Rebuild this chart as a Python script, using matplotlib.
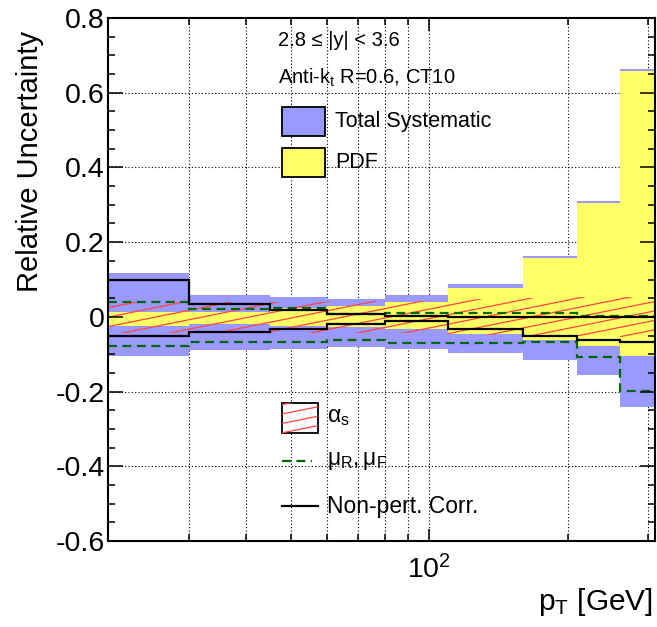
import numpy as np
import matplotlib
matplotlib.use("Agg")
import matplotlib.pyplot as plt
from matplotlib.patches import Rectangle
from matplotlib.lines import Line2D
from matplotlib.ticker import FixedLocator, FixedFormatter, FuncFormatter, MultipleLocator

plt.rcParams['font.family'] = ['Liberation Sans', 'DejaVu Sans']
plt.rcParams['mathtext.fontset'] = 'custom'
plt.rcParams['mathtext.rm'] = 'Liberation Sans'
plt.rcParams['mathtext.it'] = 'Liberation Sans:italic'
plt.rcParams['mathtext.default'] = 'regular'
plt.rcParams['axes.unicode_minus'] = False

# pT bin edges [GeV]
pt_edges = [20, 30, 45, 60, 80, 110, 160, 210, 260, 310]

# relative uncertainties per bin
total_up = [0.117, 0.059, 0.052, 0.047, 0.059, 0.088, 0.163, 0.310, 0.663]
total_dn = [-0.104, -0.088, -0.087, -0.081, -0.087, -0.098, -0.115, -0.155, -0.240]
pdf_up = [0.014, 0.012, 0.023, 0.028, 0.041, 0.078, 0.158, 0.305, 0.659]
pdf_dn = [-0.024, -0.019, -0.024, -0.028, -0.033, -0.046, -0.062, -0.079, -0.106]
alphas_up = [0.041, 0.040, 0.041, 0.042, 0.043, 0.047, 0.050, 0.052, 0.054]
alphas_dn = [-0.043, -0.042, -0.042, -0.043, -0.044, -0.048, -0.050, -0.052, -0.054]
scale_up = [0.039, 0.021, 0.023, 0.008, 0.0115, 0.011, 0.011, 0.003, 0.003]
scale_dn = [-0.078, -0.066, -0.066, -0.062, -0.069, -0.069, -0.068, -0.108, -0.198]
nonpert_up = [0.099, 0.035, 0.019, 0.007, 0.003, 0.0, 0.0, 0.0, 0.0]
nonpert_dn = [-0.051, -0.041, -0.032, -0.019, -0.011, -0.032, -0.050, -0.062, -0.068]

x_major = [100]
x_minor = [30, 40, 50, 60, 70, 80, 90, 200, 300]

BLUE = '#9999ff'
YELLOW = '#ffff66'
RED = '#ff4444'
GREEN = '#006600'

W, H = 657, 627
fig = plt.figure(figsize=(W / 100, H / 100), dpi=100)
ax = fig.add_axes([108 / W, 1 - 541 / H, 547 / W, 523 / H])
ax.set_xscale('log')
ax.set_xlim(20, 310)
ax.set_ylim(-0.6, 0.8)


def add_hatch(ax, clip_patch, z, spacing=0.018, slope=0.21, y_lo=-0.4, y_hi=1.2):
    # ROOT-like shallow hatch, clipped to the given patch
    for y0 in np.arange(y_lo, y_hi, spacing):
        ln, = ax.plot([0, 1], [y0, y0 + slope], transform=ax.transAxes,
                      color=RED, lw=0.9, zorder=z)
        ln.set_clip_path(clip_patch)


# grid below everything
for xv in x_major + x_minor:
    ax.axvline(xv, color='k', lw=0.8, ls=(0, (1, 2)), zorder=0.3)
for yv in [-0.4, -0.2, 0.0, 0.2, 0.4, 0.6]:
    ax.axhline(yv, color='k', lw=0.8, ls=(0, (1, 2)), zorder=0.3)

ax.stairs(total_up, pt_edges, baseline=total_dn, fill=True, color=BLUE, lw=0, zorder=1.0)
ax.stairs(pdf_up, pt_edges, baseline=pdf_dn, fill=True, color=YELLOW, lw=0, zorder=1.1)
a_patch = ax.stairs(alphas_up, pt_edges, baseline=alphas_dn, fill=True,
                    facecolor='none', edgecolor='none', zorder=1.15)
add_hatch(ax, a_patch, 1.2)

ax.stairs(scale_up, pt_edges, baseline=None, color=GREEN, lw=1.6, ls=(0, (4, 2.5)), zorder=1.3)
ax.stairs(scale_dn, pt_edges, baseline=None, color=GREEN, lw=1.6, ls=(0, (4, 2.5)), zorder=1.3)
ax.stairs(nonpert_up, pt_edges, baseline=None, color='k', lw=1.6, zorder=1.4)
ax.stairs(nonpert_dn, pt_edges, baseline=None, color='k', lw=1.6, zorder=1.4)

# axes styling (ROOT look)
ax.xaxis.set_major_locator(FixedLocator(x_major))
ax.xaxis.set_major_formatter(FixedFormatter([r'$10^{2}$']))
ax.xaxis.set_minor_locator(FixedLocator(x_minor))
ax.xaxis.set_minor_formatter(FixedFormatter([''] * len(x_minor)))
ax.yaxis.set_major_locator(MultipleLocator(0.2))
ax.yaxis.set_minor_locator(MultipleLocator(0.05))
ax.yaxis.set_major_formatter(FuncFormatter(lambda v, p: '0' if abs(v) < 1e-9 else f'{v:.1f}'))

ax.tick_params(which='both', direction='in', top=True, right=True, width=1.1, labelsize=20.5)
ax.tick_params(axis='y', which='major', length=11, pad=2.5)
ax.tick_params(axis='y', which='minor', length=5)
ax.tick_params(axis='x', which='major', length=9, pad=10)
ax.tick_params(axis='x', which='minor', length=5)
for sp in ax.spines.values():
    sp.set_linewidth(1.5)

fig.text(30 / W, 1 - 161 / H, 'Relative Uncertainty', rotation=90,
         ha='center', va='center', fontsize=21)
fig.text(653 / W, 1 - 602 / H, r'$p_{T}$ [GeV]', ha='right', va='center', fontsize=21.5)


# labels and legend, positions in axes fractions
def px(xp):
    return (xp - 108) / 547


def py(yp):
    return (541 - yp) / 523


ax.text(px(278), py(40), '2.8 \u2264 |y| < 3.6', transform=ax.transAxes,
        ha='left', va='center', fontsize=14.5)
ax.text(px(278), py(78), r'Anti-$k_{t}$ R=0.6, CT10', transform=ax.transAxes,
        ha='left', va='center', fontsize=14.5)

ax.add_patch(Rectangle((px(282), py(136)), px(325) - px(282), py(107) - py(136),
                       transform=ax.transAxes, facecolor=BLUE, edgecolor='k', lw=1.3, zorder=3))
ax.text(px(335), py(122), 'Total Systematic', transform=ax.transAxes,
        ha='left', va='center', fontsize=15.5)
ax.add_patch(Rectangle((px(282), py(177)), px(325) - px(282), py(148) - py(177),
                       transform=ax.transAxes, facecolor=YELLOW, edgecolor='k', lw=1.3, zorder=3))
ax.text(px(335), py(163), 'PDF', transform=ax.transAxes,
        ha='left', va='center', fontsize=15.5)

a_box = Rectangle((px(282), py(433)), px(318) - px(282), py(403) - py(433),
                  transform=ax.transAxes, facecolor='white', edgecolor='k', lw=1.3, zorder=3)
ax.add_patch(a_box)
add_hatch(ax, a_box, 3.1)
ax.text(px(327), py(416), r'$\alpha_{s}$', transform=ax.transAxes,
        ha='left', va='center', fontsize=16.5)

ax.add_line(Line2D([px(282), px(312)], [py(461), py(461)], transform=ax.transAxes,
                   color=GREEN, lw=1.6, ls=(0, (4, 2.5)), zorder=3))
ax.text(px(327), py(461), r'$\mu_{R}, \mu_{F}$', transform=ax.transAxes,
        ha='left', va='center', fontsize=16.5)

ax.add_line(Line2D([px(282), px(318)], [py(506), py(506)], transform=ax.transAxes,
                   color='k', lw=1.6, zorder=3))
ax.text(px(327), py(506), 'Non-pert. Corr.', transform=ax.transAxes,
        ha='left', va='center', fontsize=16.5)

fig.savefig('out.png', dpi=100)
